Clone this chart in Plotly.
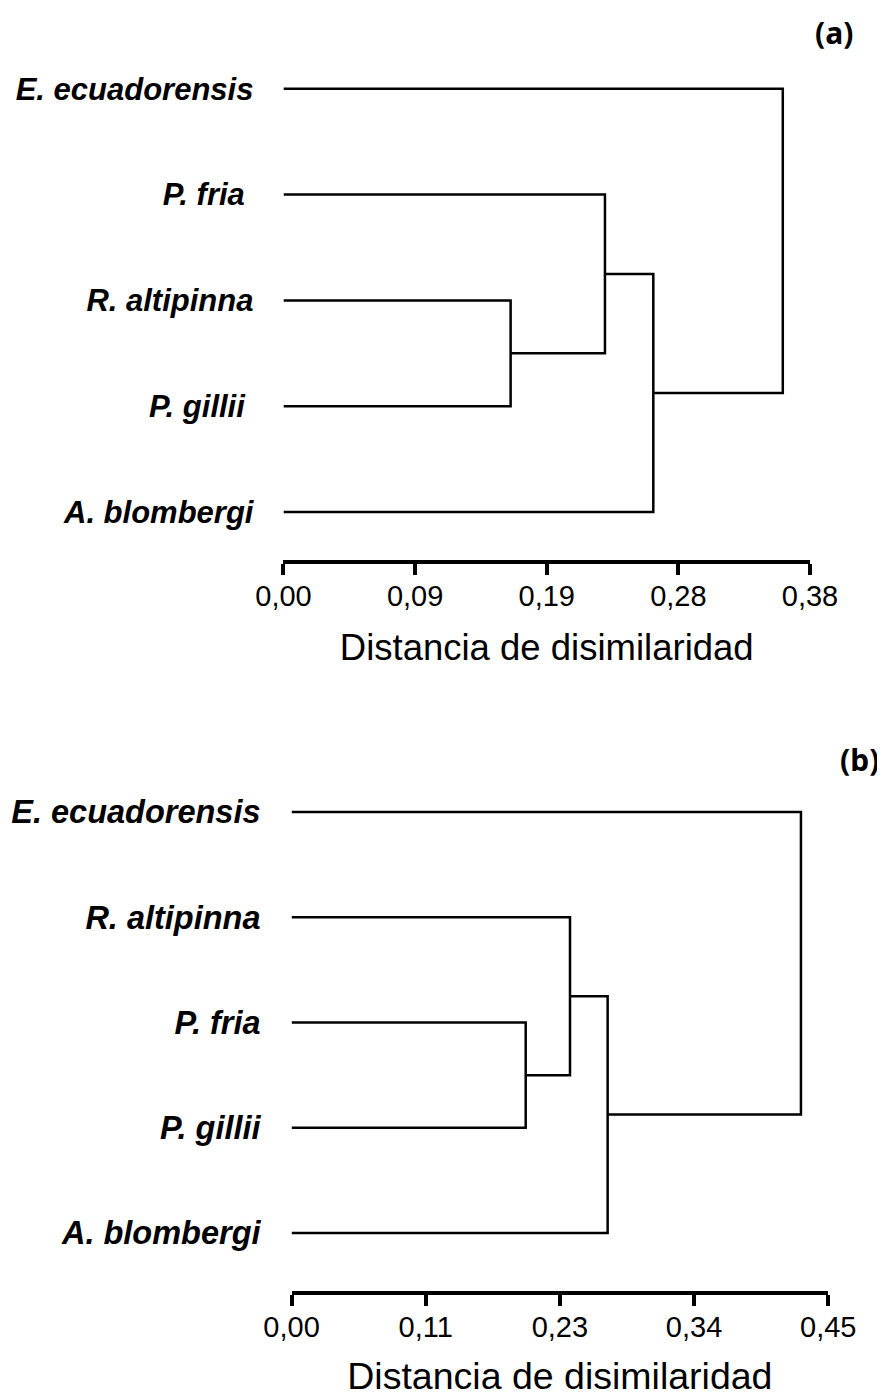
import plotly.graph_objects as go

# ---------------- data ----------------
labels_a = ["E. ecuadorensis", "P. fria\u00a0", "R. altipinna", "P. gillii\u00a0", "A. blombergi"]
merge_a = [(2, 3), (1, "m0"), ("m1", 4), (0, "m2")]
heights_a = [0.1635, 0.2314, 0.2662, 0.3594]
tickvals_a = [0.0, 0.09475, 0.1895, 0.28425, 0.379]
ticktext_a = ["0,00", "0,09", "0,19", "0,28", "0,38"]

labels_b = ["E. ecuadorensis", "R. altipinna", "P. fria", "P. gillii", "A. blombergi"]
merge_b = [(2, 3), (1, "m0"), ("m1", 4), (0, "m2")]
heights_b = [0.1972, 0.2345, 0.2662, 0.4290]
tickvals_b = [0.0, 0.113, 0.226, 0.339, 0.452]
ticktext_b = ["0,00", "0,11", "0,23", "0,34", "0,45"]

axis_title = "Distancia de disimilaridad"


def dendro_segments(n_leaves, merges, heights):
    pos = {i: (0.0, float(i)) for i in range(n_leaves)}
    xs, ys = [], []
    for k, (c1, c2) in enumerate(merges):
        h = heights[k]
        x1, y1 = pos[c1]
        x2, y2 = pos[c2]
        xs += [x1, h, h, x2, None]
        ys += [y1, y1, y2, y2, None]
        pos["m%d" % k] = (h, (y1 + y2) / 2.0)
    return xs, ys


fig = go.Figure()
line_style = dict(color="black", width=2.5)

xa, ya = dendro_segments(len(labels_a), merge_a, heights_a)
fig.add_trace(go.Scatter(x=xa, y=ya, mode="lines", line=line_style,
                         xaxis="x", yaxis="y", showlegend=False, hoverinfo="skip"))
xb, yb = dendro_segments(len(labels_b), merge_b, heights_b)
fig.add_trace(go.Scatter(x=xb, y=yb, mode="lines", line=line_style,
                         xaxis="x2", yaxis="y2", showlegend=False, hoverinfo="skip"))

lab_font = "Liberation Sans, Arial, sans-serif"


def xaxis_cfg(domain, tv, tt, anchor, fsz, tsz, tstand):
    return dict(domain=domain, range=[0, tv[-1]], anchor=anchor, automargin=False,
                tickvals=tv, ticktext=tt, showline=True, linecolor="black",
                linewidth=4, ticks="outside", ticklen=11, tickwidth=4,
                tickcolor="black", showgrid=False, zeroline=False,
                ticklabelstandoff=-4,
                tickfont=dict(family=lab_font, size=fsz, color="black"),
                title=dict(text=axis_title, standoff=tstand,
                           font=dict(family=lab_font, size=tsz, color="black")),
                fixedrange=True)


def yaxis_cfg(domain, labels, anchor, fsz, bottom, stand):
    return dict(domain=domain, range=[bottom, -0.5], anchor=anchor, automargin=False,
                tickvals=list(range(len(labels))),
                ticktext=["<b><i>%s</i></b>" % s for s in labels],
                showline=False, ticks="", showgrid=False, zeroline=False,
                ticklabelstandoff=stand,
                tickfont=dict(family=lab_font, size=fsz, color="black"),
                fixedrange=True)


fig.update_layout(
    width=877, height=1390,
    margin=dict(l=0, r=0, t=0, b=0),
    paper_bgcolor="white", plot_bgcolor="white",
    xaxis=xaxis_cfg([0.3141, 0.9145], tickvals_a, ticktext_a, "y", 29, 36.5, 25),
    yaxis=yaxis_cfg([0.6029, 0.9799], labels_a, "x", 31, 4.454, 29),
    xaxis2=xaxis_cfg([0.3233, 0.9353], tickvals_b, ticktext_b, "y2", 29, 37.5, 22),
    yaxis2=yaxis_cfg([0.0770, 0.4594], labels_b, "x2", 32.5, 4.551, 30),
    annotations=[
        dict(text="<b>(a)</b>", x=0.9418, y=0.9827, xref="paper", yref="paper",
             showarrow=False, xanchor="center", yanchor="middle",
             font=dict(family="Noto Sans, sans-serif", size=30, color="black")),
        dict(text="<b>(b)</b>", x=0.9704, y=0.4590, xref="paper", yref="paper",
             showarrow=False, xanchor="center", yanchor="middle",
             font=dict(family="Noto Sans, sans-serif", size=30, color="black")),
    ],
)

fig.write_html("out.html")
